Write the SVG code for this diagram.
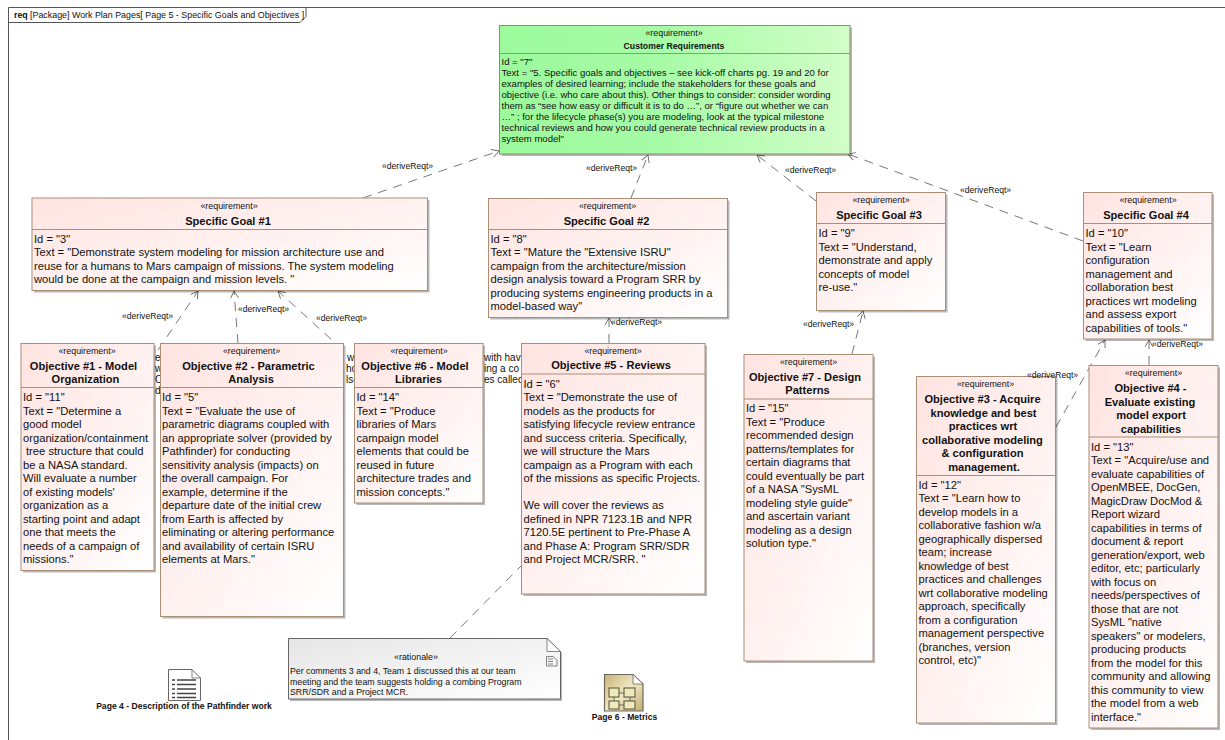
<svg xmlns="http://www.w3.org/2000/svg" width="1225" height="740" viewBox="0 0 1225 740">
<style>
text{font-family:"Liberation Sans",Arial,sans-serif;fill:#111}
.st{font-size:8.9px;text-anchor:middle}
.nm{font-size:11.1px;font-weight:bold;text-anchor:middle}
.nms{font-size:8.7px;font-weight:bold;text-anchor:middle}
.b{font-size:11.2px}
.bs{font-size:9.55px}
#hidden-text text{font-size:10px}
.lb{font-size:8.6px}
.nt{font-size:8.75px}
.cap{font-size:8.6px;font-weight:bold;text-anchor:middle}
.sh{fill:#000;fill-opacity:.28}
.box{fill:url(#pink);stroke:#a98e78;stroke-width:1}
.green{fill:url(#grn);stroke:#8c8f6e;stroke-width:1}
.div{stroke:#a98e78;stroke-width:1;fill:none}
.con{fill:none;stroke:#666;stroke-width:.9;stroke-dasharray:9 7;marker-end:url(#open)}
.nomark{marker-end:none}
</style>
<defs>
<linearGradient id="pink" x1="0" y1="0" x2="1" y2="1"><stop offset="0" stop-color="#ffe4e1"/><stop offset="1" stop-color="#ffffff"/></linearGradient>
<linearGradient id="grn" x1="0" y1="0" x2="1" y2="0"><stop offset="0" stop-color="#9cfa9c"/><stop offset=".45" stop-color="#a6fba6"/><stop offset="1" stop-color="#d2fec8"/></linearGradient>
<linearGradient id="note" x1="0" y1="0" x2="1" y2="1"><stop offset="0" stop-color="#e6e6e6"/><stop offset="1" stop-color="#ffffff"/></linearGradient>
<linearGradient id="pkg" x1="0" y1="0" x2="1" y2="1"><stop offset="0" stop-color="#c9b277"/><stop offset=".5" stop-color="#f1e7c6"/><stop offset="1" stop-color="#c4ad72"/></linearGradient>
<marker id="open" markerWidth="10" markerHeight="10" refX="8" refY="4.5" orient="auto" markerUnits="userSpaceOnUse"><path d="M1 .5L8 4.5L1 8.5" fill="none" stroke="#666" stroke-width=".9"/></marker>
</defs>
<rect width="1225" height="740" fill="#fff"/>
<g id="frame">
<path d="M1225 7.5H8.5V740" fill="none" stroke="#555" stroke-width="1"/>
<path d="M8.5 22.5H300L306 16.5V7.5" fill="none" stroke="#555" stroke-width="1"/>
<text x="14" y="18" font-size="8.8" font-weight="bold">req</text>
<text x="30" y="18" font-size="8.9">[Package] Work Plan Pages[ Page 5 - Specific Goals and Objectives ]</text>
</g>
<g id="hidden-text">
<text x="155" y="361">e</text><text x="155" y="372">w</text><text x="155" y="383">C</text><text x="155" y="394">d</text>
<text x="347" y="361">w</text><text x="346" y="372">ho</text><text x="346" y="383">lsc</text>
<text x="484" y="361">with havi</text><text x="484" y="372">ing a co</text><text x="484" y="383">es called</text>
</g>
<g id="connectors">
<path class="con" d="M363 198L499 151"/>
<path class="con" d="M631 198L648 155"/>
<path class="con" d="M816 201L757 155"/>
<path class="con" d="M1083 241L848 154"/>
<path class="con" d="M158 350L198 291"/>
<path class="con" d="M238 343L234 291"/>
<path class="con" d="M343 350L278 291"/>
<path class="con" d="M609 343L609 318"/>
<path class="con" d="M852 354L863 311"/>
<path class="con" d="M1056 427L1105 340"/>
<path class="con" d="M1149 365L1149 340"/>
<path class="con nomark" d="M450 638L522 565"/>
</g>
<g id="customer-requirements">
<rect class="sh" x="501.5" y="27.5" width="350.5" height="128.5"/>
<rect class="green" x="499.5" y="25.5" width="350.5" height="128.5"/>
<path class="div" d="M499.5 53.5H850"/>
<text class="st" x="674" y="36">«requirement»</text>
<text class="nms" x="674" y="48.5">Customer Requirements</text>
<text class="bs" x="501.5" y="64.5">Id = "7"</text>
<text class="bs" x="501.5" y="75.6">Text = "5. Specific goals and objectives – see kick-off charts pg. 19 and 20 for</text>
<text class="bs" x="501.5" y="86.7">examples of desired learning; include the stakeholders for these goals and</text>
<text class="bs" x="501.5" y="97.8">objective (i.e. who care about this). Other things to consider: consider wording</text>
<text class="bs" x="501.5" y="108.9">them as “see how easy or difficult it is to do …”, or “figure out whether we can</text>
<text class="bs" x="501.5" y="120">…” ; for the lifecycle phase(s) you are modeling, look at the typical milestone</text>
<text class="bs" x="501.5" y="131.1">technical reviews and how you could generate technical review products in a</text>
<text class="bs" x="501.5" y="142.2">system model"</text>
</g>
<g id="goal-1">
<rect class="sh" x="34" y="200" width="395.5" height="92.5"/>
<rect class="box" x="32" y="198" width="395.5" height="92.5"/>
<path class="div" d="M32 229.5H427.5"/>
<text class="st" x="229" y="208.5">«requirement»</text>
<text class="nm" x="228" y="224.5">Specific Goal #1</text>
<text class="b" x="34" y="242.5">Id = "3"</text>
<text class="b" x="34" y="256">Text = "Demonstrate system modeling for mission architecture use and</text>
<text class="b" x="34" y="269.5">reuse for a humans to Mars campaign of missions. The system modeling</text>
<text class="b" x="34" y="283">would be done at the campaign and mission levels. "</text>
</g>
<g id="goal-2">
<rect class="sh" x="490.5" y="200.5" width="239" height="119"/>
<rect class="box" x="488.5" y="198.5" width="239" height="119"/>
<path class="div" d="M488.5 229.5H727.5"/>
<text class="st" x="607.5" y="208.5">«requirement»</text>
<text class="nm" x="606.5" y="224.5">Specific Goal #2</text>
<text class="b" x="490.5" y="242.5">Id = "8"</text>
<text class="b" x="490.5" y="256">Text = "Mature the "Extensive ISRU"</text>
<text class="b" x="490.5" y="269.5">campaign from the architecture/mission</text>
<text class="b" x="490.5" y="283">design analysis toward a Program SRR by</text>
<text class="b" x="490.5" y="296.5">producing systems engineering products in a</text>
<text class="b" x="490.5" y="310">model-based way"</text>
</g>
<g id="goal-3">
<rect class="sh" x="818.5" y="194.5" width="129" height="118"/>
<rect class="box" x="816.5" y="192.5" width="129" height="118"/>
<path class="div" d="M816.5 223.5H945.5"/>
<text class="st" x="881" y="203">«requirement»</text>
<text class="nm" x="879" y="218.5">Specific Goal #3</text>
<text class="b" x="818.5" y="237">Id = "9"</text>
<text class="b" x="818.5" y="250.5">Text = "Understand,</text>
<text class="b" x="818.5" y="264">demonstrate and apply</text>
<text class="b" x="818.5" y="277.5">concepts of model</text>
<text class="b" x="818.5" y="291">re-use."</text>
</g>
<g id="goal-4">
<rect class="sh" x="1085.5" y="194.5" width="128.5" height="146.5"/>
<rect class="box" x="1083.5" y="192.5" width="128.5" height="146.5"/>
<path class="div" d="M1083.5 223.5H1212"/>
<text class="st" x="1148" y="203">«requirement»</text>
<text class="nm" x="1146" y="218.5">Specific Goal #4</text>
<text class="b" x="1085.5" y="237">Id = "10"</text>
<text class="b" x="1085.5" y="250.5">Text = "Learn</text>
<text class="b" x="1085.5" y="264">configuration</text>
<text class="b" x="1085.5" y="277.5">management and</text>
<text class="b" x="1085.5" y="291">collaboration best</text>
<text class="b" x="1085.5" y="304.5">practices wrt modeling</text>
<text class="b" x="1085.5" y="318">and assess export</text>
<text class="b" x="1085.5" y="331.5">capabilities of tools."</text>
</g>
<g id="objective-1">
<rect class="sh" x="23" y="345.5" width="133" height="227"/>
<rect class="box" x="21" y="343.5" width="133" height="227"/>
<path class="div" d="M21 387.5H154"/>
<text class="st" x="87" y="353.5">«requirement»</text>
<text class="nm" x="83.5" y="369.5">Objective #1 - Model</text>
<text class="nm" x="85.5" y="383">Organization</text>
<text class="b" x="23" y="401">Id = "11"</text>
<text class="b" x="23" y="414.5">Text = "Determine a</text>
<text class="b" x="23" y="428">good model</text>
<text class="b" x="23" y="441.5">organization/containment</text>
<text class="b" x="26" y="455">tree structure that could</text>
<text class="b" x="23" y="468.6">be a NASA standard.</text>
<text class="b" x="23" y="482.1">Will evaluate a number</text>
<text class="b" x="23" y="495.7">of existing models'</text>
<text class="b" x="23" y="509.2">organization as a</text>
<text class="b" x="23" y="522.7">starting point and adapt</text>
<text class="b" x="23" y="536.2">one that meets the</text>
<text class="b" x="23" y="549.8">needs of a campaign of</text>
<text class="b" x="23" y="563.3">missions."</text>
</g>
<g id="objective-2">
<rect class="sh" x="162.5" y="345.5" width="183" height="273"/>
<rect class="box" x="160.5" y="343.5" width="183" height="273"/>
<path class="div" d="M160.5 387.5H343.5"/>
<text class="st" x="251.5" y="353.5">«requirement»</text>
<text class="nm" x="248.5" y="369.5">Objective #2 - Parametric</text>
<text class="nm" x="251" y="383">Analysis</text>
<text class="b" x="162" y="401">Id = "5"</text>
<text class="b" x="162" y="414.5">Text = "Evaluate the use of</text>
<text class="b" x="162" y="428">parametric diagrams coupled with</text>
<text class="b" x="162" y="441.5">an appropriate solver (provided by</text>
<text class="b" x="162" y="455">Pathfinder) for conducting</text>
<text class="b" x="162" y="468.6">sensitivity analysis (impacts) on</text>
<text class="b" x="162" y="482.1">the overall campaign. For</text>
<text class="b" x="162" y="495.7">example, determine if the</text>
<text class="b" x="162" y="509.2">departure date of the initial crew</text>
<text class="b" x="162" y="522.7">from Earth is affected by</text>
<text class="b" x="162" y="536.2">eliminating or altering performance</text>
<text class="b" x="162" y="549.8">and availability of certain ISRU</text>
<text class="b" x="162" y="563.3">elements at Mars."</text>
</g>
<g id="objective-6">
<rect class="sh" x="356.5" y="345.5" width="128.5" height="159.5"/>
<rect class="box" x="354.5" y="343.5" width="128.5" height="159.5"/>
<path class="div" d="M354.5 387.5H483"/>
<text class="st" x="419" y="353.5">«requirement»</text>
<text class="nm" x="415" y="369.5">Objective #6 - Model</text>
<text class="nm" x="418.5" y="383">Libraries</text>
<text class="b" x="356.5" y="401">Id = "14"</text>
<text class="b" x="356.5" y="414.5">Text = "Produce</text>
<text class="b" x="356.5" y="428">libraries of Mars</text>
<text class="b" x="356.5" y="441.5">campaign model</text>
<text class="b" x="356.5" y="455">elements that could be</text>
<text class="b" x="356.5" y="468.6">reused in future</text>
<text class="b" x="356.5" y="482.1">architecture trades and</text>
<text class="b" x="356.5" y="495.7">mission concepts."</text>
</g>
<g id="objective-5">
<rect class="sh" x="523.5" y="345.5" width="183.5" height="250.5"/>
<rect class="box" x="521.5" y="343.5" width="183.5" height="250.5"/>
<path class="div" d="M521.5 374H705"/>
<text class="st" x="613" y="353.5">«requirement»</text>
<text class="nm" x="611" y="369">Objective #5 - Reviews</text>
<text class="b" x="523.5" y="387.5">Id = "6"</text>
<text class="b" x="523.5" y="401">Text = "Demonstrate the use of</text>
<text class="b" x="523.5" y="414.5">models as the products for</text>
<text class="b" x="523.5" y="428">satisfying lifecycle review entrance</text>
<text class="b" x="523.5" y="441.5">and success criteria. Specifically,</text>
<text class="b" x="523.5" y="455">we will structure the Mars</text>
<text class="b" x="523.5" y="468.5">campaign as a Program with each</text>
<text class="b" x="523.5" y="482">of the missions as specific Projects.</text>
<text class="b" x="523.5" y="509">We will cover the reviews as</text>
<text class="b" x="523.5" y="522.5">defined in NPR 7123.1B and NPR</text>
<text class="b" x="523.5" y="536">7120.5E pertinent to Pre-Phase A</text>
<text class="b" x="523.5" y="549.5">and Phase A: Program SRR/SDR</text>
<text class="b" x="523.5" y="563">and Project MCR/SRR. "</text>
</g>
<g id="objective-7">
<rect class="sh" x="746" y="356.5" width="129" height="306.5"/>
<rect class="box" x="744" y="354.5" width="129" height="306.5"/>
<path class="div" d="M744 399H873"/>
<text class="st" x="808.5" y="364.5">«requirement»</text>
<text class="nm" x="805" y="380.5">Objective #7 - Design</text>
<text class="nm" x="807.5" y="394">Patterns</text>
<text class="b" x="746" y="412">Id = "15"</text>
<text class="b" x="746" y="425.5">Text = "Produce</text>
<text class="b" x="746" y="439">recommended design</text>
<text class="b" x="746" y="452.5">patterns/templates for</text>
<text class="b" x="746" y="466">certain diagrams that</text>
<text class="b" x="746" y="479.5">could eventually be part</text>
<text class="b" x="746" y="493">of a NASA "SysML</text>
<text class="b" x="746" y="506.5">modeling style guide"</text>
<text class="b" x="746" y="520">and ascertain variant</text>
<text class="b" x="746" y="533.5">modeling as a design</text>
<text class="b" x="746" y="547">solution type."</text>
</g>
<g id="objective-3">
<rect class="sh" x="918.5" y="378.5" width="139" height="346.5"/>
<rect class="box" x="916.5" y="376.5" width="139" height="346.5"/>
<path class="div" d="M916.5 475.5H1055.5"/>
<text class="st" x="985.5" y="387">«requirement»</text>
<text class="nm" x="982.5" y="403">Objective #3 - Acquire</text>
<text class="nm" x="983.5" y="416.5">knowledge and best</text>
<text class="nm" x="983" y="430">practices wrt</text>
<text class="nm" x="982.5" y="443.5">collaborative modeling</text>
<text class="nm" x="982.5" y="457">&amp; configuration</text>
<text class="nm" x="984" y="470.5">management.</text>
<text class="b" x="918.5" y="488.5">Id = "12"</text>
<text class="b" x="918.5" y="502">Text = "Learn how to</text>
<text class="b" x="918.5" y="515.5">develop models in a</text>
<text class="b" x="918.5" y="529">collaborative fashion w/a</text>
<text class="b" x="918.5" y="542.5">geographically dispersed</text>
<text class="b" x="918.5" y="556">team; increase</text>
<text class="b" x="918.5" y="569.5">knowledge of best</text>
<text class="b" x="918.5" y="583">practices and challenges</text>
<text class="b" x="918.5" y="596.5">wrt collaborative modeling</text>
<text class="b" x="918.5" y="610">approach, specifically</text>
<text class="b" x="918.5" y="623.5">from a configuration</text>
<text class="b" x="918.5" y="637">management perspective</text>
<text class="b" x="918.5" y="650.5">(branches, version</text>
<text class="b" x="918.5" y="664">control, etc)"</text>
</g>
<g id="objective-4">
<rect class="sh" x="1091" y="367.5" width="129" height="362.5"/>
<rect class="box" x="1089" y="365.5" width="129" height="362.5"/>
<path class="div" d="M1089 437H1218"/>
<text class="st" x="1153.5" y="376">«requirement»</text>
<text class="nm" x="1150.5" y="392">Objective #4 -</text>
<text class="nm" x="1150" y="405.5">Evaluate existing</text>
<text class="nm" x="1151" y="419">model export</text>
<text class="nm" x="1151" y="432.5">capabilities</text>
<text class="b" x="1091" y="450.5">Id = "13"</text>
<text class="b" x="1091" y="464">Text = "Acquire/use and</text>
<text class="b" x="1091" y="477.5">evaluate capabilities of</text>
<text class="b" x="1091" y="491">OpenMBEE, DocGen,</text>
<text class="b" x="1091" y="504.5">MagicDraw DocMod &amp;</text>
<text class="b" x="1091" y="518">Report wizard</text>
<text class="b" x="1091" y="531.5">capabilities in terms of</text>
<text class="b" x="1091" y="545">document &amp; report</text>
<text class="b" x="1091" y="558.5">generation/export, web</text>
<text class="b" x="1091" y="572">editor, etc; particularly</text>
<text class="b" x="1091" y="585.5">with focus on</text>
<text class="b" x="1091" y="599">needs/perspectives of</text>
<text class="b" x="1091" y="612.5">those that are not</text>
<text class="b" x="1091" y="626">SysML "native</text>
<text class="b" x="1091" y="639.5">speakers" or modelers,</text>
<text class="b" x="1091" y="653">producing products</text>
<text class="b" x="1091" y="666.5">from the model for this</text>
<text class="b" x="1091" y="680">community and allowing</text>
<text class="b" x="1091" y="693.5">this community to view</text>
<text class="b" x="1091" y="707">the model from a web</text>
<text class="b" x="1091" y="720.5">interface."</text>
</g>
<g id="rationale">
<path class="sh" d="M290 640H549L562 653V701H290Z"/>
<path d="M288.5 638.5H547L560.5 651.5V699H288.5Z" fill="url(#note)" stroke="#666" stroke-width="1"/>
<path d="M547 638.5V651.5H560.5Z" fill="#fff" stroke="#666" stroke-width=".8"/>
<path d="M546.5 656.5H553L557 660V666H546.5Z M548 659H553 M548 661.5H553 M548 664H553" fill="none" stroke="#666" stroke-width=".8"/>
<text class="st" x="416" y="660">«rationale»</text>
<text class="nt" x="290" y="673.5">Per comments 3 and 4, Team 1 discussed this at our team</text>
<text class="nt" x="290" y="684.5">meeting and the team suggests holding a combing Program</text>
<text class="nt" x="290" y="695">SRR/SDR and a Project MCR.</text>
</g>
<g id="page-4">
<path d="M168.5 669.5H192L200.5 678V700.5H168.5Z" fill="#fff" stroke="#666" stroke-width="1"/>
<path d="M192 669.5V678H200.5" fill="none" stroke="#666" stroke-width=".8"/>
<path d="M172 680H175M177 680H196M172 684.5H175M177 684.5H196M172 689H175M177 689H196M172 693.5H175M177 693.5H196M172 697.5H175M177 697.5H196" stroke="#444" stroke-width="1.5"/>
<text class="cap" x="184" y="709">Page 4 - Description of the Pathfinder work</text>
</g>
<g id="page-6">
<path d="M604.5 674.5H633L643 684V711H604.5Z" fill="url(#pkg)" stroke="#6b6b5c" stroke-width="1.2"/>
<path d="M633 674.5V684H643Z" fill="#fff" stroke="#6b6b5c" stroke-width=".8"/>
<path d="M619 693H624M630 697V701M619 705H624M614 697V701" stroke="#666" stroke-width="1"/>
<g fill="#efe9bb" stroke="#5d5d3f" stroke-width="1.1"><rect x="609" y="688" width="10" height="9"/><rect x="624" y="688" width="11" height="9"/><rect x="609" y="701" width="10" height="8"/><rect x="624" y="701" width="11" height="8"/></g>
<text class="cap" x="624.5" y="720">Page 6 - Metrics</text>
</g>
<g id="connector-labels">
<text class="lb" x="382" y="169">«deriveReqt»</text>
<text class="lb" x="586" y="171">«deriveReqt»</text>
<text class="lb" x="785" y="173">«deriveReqt»</text>
<text class="lb" x="960" y="193">«deriveReqt»</text>
<text class="lb" x="122" y="319">«deriveReqt»</text>
<text class="lb" x="238" y="312">«deriveReqt»</text>
<text class="lb" x="316" y="321">«deriveReqt»</text>
<text class="lb" x="611" y="325">«deriveReqt»</text>
<text class="lb" x="803" y="327">«deriveReqt»</text>
<text class="lb" x="1027" y="378">«deriveReqt»</text>
<text class="lb" x="1152" y="347">«deriveReqt»</text>
</g>
</svg>
